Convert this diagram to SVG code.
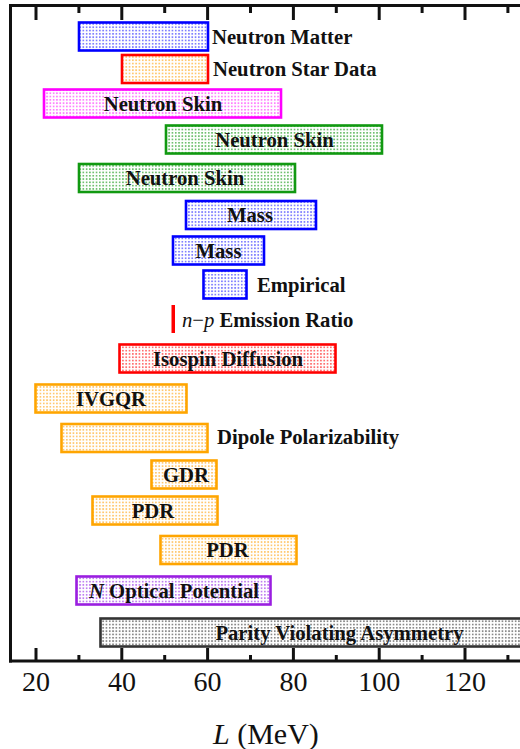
<svg xmlns="http://www.w3.org/2000/svg" width="520" height="749" viewBox="0 0 520 749">
<defs>
<pattern id="pb" width="3.3" height="3.3" patternUnits="userSpaceOnUse"><rect width="3.3" height="3.3" fill="#fff"/><rect width="1.7" height="1.7" fill="#8080ff"/></pattern>
<pattern id="po" width="3.3" height="3.3" patternUnits="userSpaceOnUse"><rect width="3.3" height="3.3" fill="#fff"/><rect width="1.7" height="1.7" fill="#ffc870"/></pattern>
<pattern id="pg" width="3.3" height="3.3" patternUnits="userSpaceOnUse"><rect width="3.3" height="3.3" fill="#fff"/><rect width="1.7" height="1.7" fill="#70c070"/></pattern>
<pattern id="pr" width="3.3" height="3.3" patternUnits="userSpaceOnUse"><rect width="3.3" height="3.3" fill="#fff"/><rect width="1.7" height="1.7" fill="#ff7070"/></pattern>
<pattern id="pm" width="3.3" height="3.3" patternUnits="userSpaceOnUse"><rect width="3.3" height="3.3" fill="#fff"/><rect width="1.7" height="1.7" fill="#ff80ff"/></pattern>
<pattern id="pp" width="3.3" height="3.3" patternUnits="userSpaceOnUse"><rect width="3.3" height="3.3" fill="#fff"/><rect width="1.7" height="1.7" fill="#c080f0"/></pattern>
<pattern id="pk" width="3.3" height="3.3" patternUnits="userSpaceOnUse"><rect width="3.3" height="3.3" fill="#fff"/><rect width="1.7" height="1.7" fill="#8a8a8a"/></pattern>
</defs>
<style>
.bar{stroke-width:2.6}
.lb{font-family:"Liberation Serif","Times New Roman",serif;font-weight:bold;font-size:20.7px;fill:#111}
.c{text-anchor:middle}
.tk{font-family:"Liberation Serif","Times New Roman",serif;font-size:28px;fill:#111;text-anchor:middle}
.ax{stroke:#111;stroke-width:3;fill:none}
.tick{stroke:#111;stroke-width:3}
</style>
<rect width="520" height="749" fill="#fff"/>
<g id="axes">
<line class="ax" x1="10.5" y1="5" x2="10.5" y2="662.5"/>
<line class="ax" x1="9" y1="5.5" x2="520" y2="5.5"/>
<line class="ax" x1="9" y1="661" x2="520" y2="661"/>
<g class="tick">
<line x1="36" y1="5" x2="36" y2="20"/><line x1="78.9" y1="5" x2="78.9" y2="13"/>
<line x1="121.8" y1="5" x2="121.8" y2="20"/><line x1="164.7" y1="5" x2="164.7" y2="13"/>
<line x1="207.6" y1="5" x2="207.6" y2="20"/><line x1="250.5" y1="5" x2="250.5" y2="13"/>
<line x1="293.4" y1="5" x2="293.4" y2="20"/><line x1="336.3" y1="5" x2="336.3" y2="13"/>
<line x1="379.2" y1="5" x2="379.2" y2="20"/><line x1="422.1" y1="5" x2="422.1" y2="13"/>
<line x1="465" y1="5" x2="465" y2="20"/><line x1="507.9" y1="5" x2="507.9" y2="13"/>
<line x1="36" y1="661" x2="36" y2="648"/><line x1="78.9" y1="661" x2="78.9" y2="655"/>
<line x1="121.8" y1="661" x2="121.8" y2="648"/><line x1="164.7" y1="661" x2="164.7" y2="655"/>
<line x1="207.6" y1="661" x2="207.6" y2="648"/><line x1="250.5" y1="661" x2="250.5" y2="655"/>
<line x1="293.4" y1="661" x2="293.4" y2="648"/><line x1="336.3" y1="661" x2="336.3" y2="655"/>
<line x1="379.2" y1="661" x2="379.2" y2="648"/><line x1="422.1" y1="661" x2="422.1" y2="655"/>
<line x1="465" y1="661" x2="465" y2="648"/><line x1="507.9" y1="661" x2="507.9" y2="655"/>
</g>
<text class="tk" x="36" y="691">20</text>
<text class="tk" x="122" y="691">40</text>
<text class="tk" x="207.6" y="691">60</text>
<text class="tk" x="293.4" y="691">80</text>
<text class="tk" x="379.2" y="691">100</text>
<text class="tk" x="465" y="691">120</text>
<text x="213" y="744" font-family="Liberation Serif, Times New Roman, serif" font-size="30" fill="#111"><tspan font-style="italic">L</tspan> (MeV)</text>
<text x="-8" y="583" font-family="Liberation Serif, Times New Roman, serif" font-size="20" font-weight="bold" font-style="italic" fill="#8a2be2">s</text>
</g>
<g id="bar-neutron-matter"><rect class="bar" x="79" y="22.5" width="129" height="28" fill="url(#pb)" stroke="#0000ff"/><text class="lb" x="212" y="44">Neutron Matter</text></g>
<g id="bar-neutron-star"><rect class="bar" x="122" y="55" width="86" height="28" fill="url(#po)" stroke="#ff0000"/><text class="lb" x="213" y="76">Neutron Star Data</text></g>
<g id="bar-skin-1"><rect class="bar" x="44" y="89.5" width="237" height="28" fill="url(#pm)" stroke="#ff00ff"/><text class="lb c" x="163" y="111">Neutron Skin</text></g>
<g id="bar-skin-2"><rect class="bar" x="166" y="125.5" width="216" height="28" fill="url(#pg)" stroke="#119911"/><text class="lb c" x="274.5" y="147">Neutron Skin</text></g>
<g id="bar-skin-3"><rect class="bar" x="79" y="164" width="216" height="28" fill="url(#pg)" stroke="#119911"/><text class="lb c" x="185" y="185">Neutron Skin</text></g>
<g id="bar-mass-1"><rect class="bar" x="186" y="201" width="130" height="28" fill="url(#pb)" stroke="#0000ff"/><text class="lb c" x="250" y="222">Mass</text></g>
<g id="bar-mass-2"><rect class="bar" x="173" y="236.5" width="91" height="28" fill="url(#pb)" stroke="#0000ff"/><text class="lb c" x="218.5" y="258">Mass</text></g>
<g id="bar-empirical"><rect class="bar" x="203.5" y="270.5" width="43" height="28" fill="url(#pb)" stroke="#0000ff"/><text class="lb" x="257" y="292">Empirical</text></g>
<g id="bar-np"><rect x="171.5" y="305" width="3.5" height="28" fill="#ff0000"/><text class="lb" x="182" y="327"><tspan font-style="italic" font-weight="normal">n</tspan><tspan font-weight="normal">−</tspan><tspan font-style="italic" font-weight="normal">p</tspan> Emission Ratio</text></g>
<g id="bar-isospin"><rect class="bar" x="119.5" y="344.5" width="216" height="28" fill="url(#pr)" stroke="#ff0000"/><text class="lb c" x="228" y="366">Isospin Diffusion</text></g>
<g id="bar-ivgqr"><rect class="bar" x="35.5" y="384.5" width="151" height="28" fill="url(#po)" stroke="#ffa500"/><text class="lb c" x="111" y="406">IVGQR</text></g>
<g id="bar-dipole"><rect class="bar" x="61.5" y="424" width="146" height="28" fill="url(#po)" stroke="#ffa500"/><text class="lb" x="217" y="444">Dipole Polarizability</text></g>
<g id="bar-gdr"><rect class="bar" x="151.5" y="460.5" width="65" height="28" fill="url(#po)" stroke="#ffa500"/><text class="lb c" x="186" y="482">GDR</text></g>
<g id="bar-pdr-1"><rect class="bar" x="92.5" y="496.5" width="125" height="28" fill="url(#po)" stroke="#ffa500"/><text class="lb c" x="153" y="518">PDR</text></g>
<g id="bar-pdr-2"><rect class="bar" x="160.5" y="536" width="136" height="28" fill="url(#po)" stroke="#ffa500"/><text class="lb c" x="227.5" y="557">PDR</text></g>
<g id="bar-optical"><rect class="bar" x="76.5" y="576.5" width="194" height="28" fill="url(#pp)" stroke="#9a1ee0"/><text class="lb c" x="174" y="598"><tspan font-style="italic">N</tspan> Optical Potential</text></g>
<g id="bar-parity"><rect class="bar" x="100.5" y="618.5" width="430" height="28" fill="url(#pk)" stroke="#333"/><text class="lb c" x="339.5" y="640">Parity Violating Asymmetry</text></g>
<g id="connectors"/>
</svg>
